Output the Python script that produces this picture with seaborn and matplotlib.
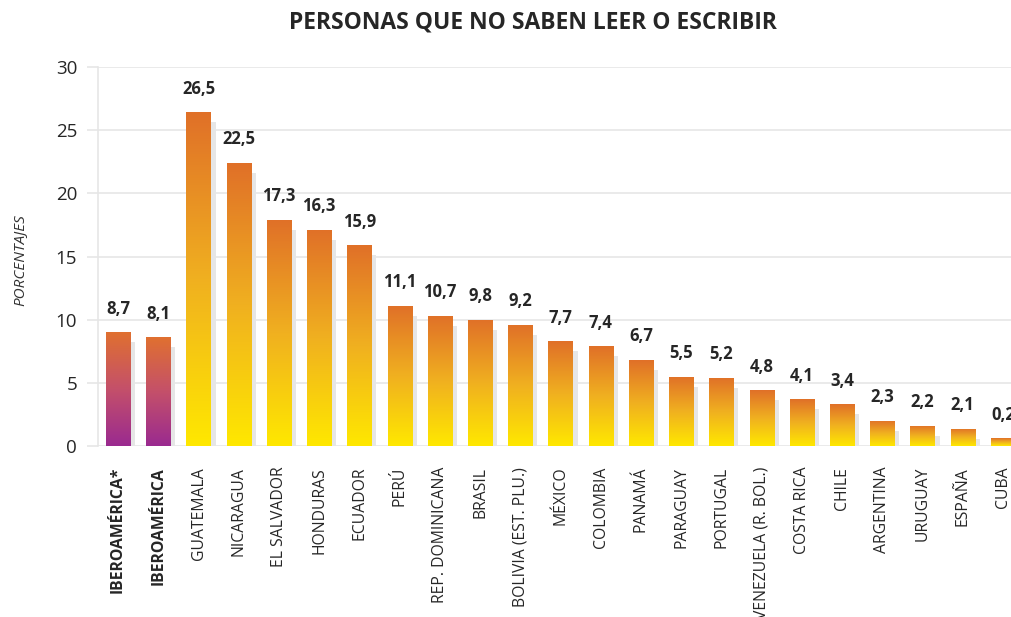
import numpy as np
import pandas as pd
import seaborn as sns
import matplotlib.pyplot as plt
import matplotlib.transforms as mtransforms
from matplotlib.colors import LinearSegmentedColormap

paises = ["IBEROAMÉRICA*", "IBEROAMÉRICA", "GUATEMALA", "NICARAGUA", "EL SALVADOR",
          "HONDURAS", "ECUADOR", "PERÚ", "REP. DOMINICANA", "BRASIL",
          "BOLIVIA (EST. PLU.)", "MÉXICO", "COLOMBIA", "PANAMÁ", "PARAGUAY",
          "PORTUGAL", "VENEZUELA (R. BOL.)", "COSTA RICA", "CHILE", "ARGENTINA",
          "URUGUAY", "ESPAÑA", "CUBA"]
# values printed over the bars
valores = [8.7, 8.1, 26.5, 22.5, 17.3, 16.3, 15.9, 11.1, 10.7, 9.8, 9.2, 7.7,
           7.4, 6.7, 5.5, 5.2, 4.8, 4.1, 3.4, 2.3, 2.2, 2.1, 0.2]
# bar heights as drawn in the original
alturas = [9.0, 8.6, 26.4, 22.4, 17.9, 17.1, 15.9, 11.1, 10.3, 10.0, 9.6, 8.3,
           7.9, 6.8, 5.5, 5.4, 4.4, 3.7, 3.3, 2.0, 1.6, 1.35, 0.6]
yticks = [0, 5, 10, 15, 20, 25, 30]

GRIS = "#e6e6e6"
TEXTO = "#262626"

sns.set_theme(style="white")
plt.rcParams['font.family'] = ['Open Sans', 'DejaVu Sans']

naranja = LinearSegmentedColormap.from_list("naranja", ["#ffe800", "#f0b020", "#e07028"])
morado = LinearSegmentedColormap.from_list("morado", ["#9a2a90", "#c4506a", "#e07030"])

fig = plt.figure(figsize=(10.12, 6.17), dpi=100)
ax = fig.add_axes([98 / 1012, 171 / 617, 925 / 1012, 379 / 617])

df = pd.DataFrame({"pais": paises, "altura": alturas, "valor": valores})
n = len(df)

# drop shadow
sns.barplot(data=df, x="pais", y="altura", color=GRIS, saturation=1, width=0.6,
            linewidth=0, ax=ax)
sombra = mtransforms.ScaledTranslation(5 / 100, -10 / 100, fig.dpi_scale_trans)
for p in ax.patches:
    p.set_transform(ax.transData + sombra)
    p.set_zorder(1)

# main bars, filled with a vertical gradient
sns.barplot(data=df, x="pais", y="altura", color="white", saturation=1, width=0.6,
            linewidth=0, ax=ax)
grad = np.linspace(0, 1, 256).reshape(-1, 1)
for i, p in enumerate(ax.patches[n:]):
    x0, w, h = p.get_x(), p.get_width(), p.get_height()
    p.set_facecolor("none")
    im = ax.imshow(grad, cmap=morado if i < 2 else naranja, origin="lower",
                   extent=[x0, x0 + w, 0, h], aspect="auto", zorder=3)
    im.set_clip_path(p)
    txt = f"{df.valor[i]:.1f}".replace(".", ",")
    ax.annotate(txt, (x0 + w / 2, h), xytext=(0, 17), textcoords="offset points",
                ha="center", va="center", fontsize=12, fontweight="bold", color=TEXTO)

ax.set_xlim(-0.5, n - 0.5)
ax.set_ylim(0, 30)
ax.set_yticks(yticks)
ax.set_xticks(range(n))
ax.set_xticklabels(paises, rotation=90, fontsize=11.3, color=TEXTO)
for lab in ax.get_xticklabels()[:2]:
    lab.set_fontweight("bold")
ax.set_xticks(np.arange(-0.5, n, 1), minor=True)
ax.tick_params(axis="x", which="major", length=0, pad=15)
ax.tick_params(axis="x", which="minor", length=8.6, width=1.2, color=GRIS, direction="out")
ax.tick_params(axis="y", length=8, width=1.2, color=GRIS, pad=7, labelsize=13.5,
               labelcolor=TEXTO, left=True)
ax.yaxis.grid(True, color=GRIS, lw=1.2)
ax.xaxis.grid(False)
ax.set_axisbelow(True)
ax.set_xlabel("")
ax.set_ylabel("")
for s in ["top", "right", "bottom"]:
    ax.spines[s].set_visible(False)
ax.spines["left"].set_color(GRIS)
ax.spines["left"].set_linewidth(1.2)

fig.text(20 / 1012, 1 - 260 / 617, "PORCENTAJES", rotation=90, style="italic",
         fontsize=11, color="#333333", ha="center", va="center")
fig.text(533 / 1012, 1 - 23 / 617, "PERSONAS QUE NO SABEN LEER O ESCRIBIR",
         fontsize=16.5, fontweight="bold", color=TEXTO, ha="center", va="center")

fig.savefig("out.png", dpi=100)
